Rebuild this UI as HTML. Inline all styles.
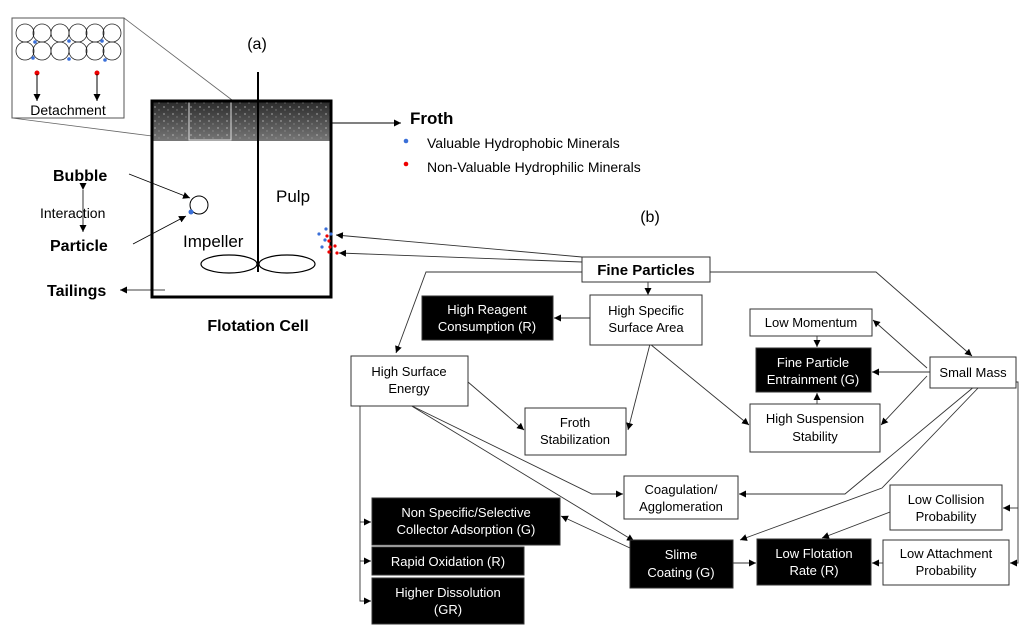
<!DOCTYPE html>
<html><head><meta charset="utf-8"><style>
html,body{margin:0;padding:0;background:#fff;}
svg{display:block;font-family:"Liberation Sans",Arial,sans-serif;}
</style></head><body>
<svg width="1033" height="638" viewBox="0 0 1033 638" xmlns="http://www.w3.org/2000/svg">
<defs>
<marker id="a" markerWidth="8" markerHeight="8" refX="7" refY="4" orient="auto" markerUnits="userSpaceOnUse"><path d="M0,0.5 L7,4 L0,7.5 z" fill="#000"/></marker>
<linearGradient id="fr" x1="0" y1="0" x2="0" y2="1"><stop offset="0" stop-color="#2a2a2a"/><stop offset="0.5" stop-color="#505050"/><stop offset="1" stop-color="#777"/></linearGradient>
<pattern id="sp" width="9" height="7" patternUnits="userSpaceOnUse"><circle cx="2" cy="2" r="0.9" fill="#ccc"/><circle cx="6" cy="5" r="0.7" fill="#aaa"/></pattern>
</defs>
<text x="257" y="49" font-size="16" text-anchor="middle">(a)</text>
<rect x="12" y="18" width="112" height="100" fill="#fff" stroke="#555" stroke-width="1"/>
<g fill="none" stroke="#222" stroke-width="0.8">
<circle cx="25" cy="33" r="9"/><circle cx="42" cy="33" r="9"/><circle cx="60" cy="33" r="9"/><circle cx="78" cy="33" r="9"/><circle cx="95" cy="33" r="9"/><circle cx="112" cy="33" r="9"/>
<circle cx="25" cy="51" r="9"/><circle cx="42" cy="51" r="9"/><circle cx="60" cy="51" r="9"/><circle cx="78" cy="51" r="9"/><circle cx="95" cy="51" r="9"/><circle cx="112" cy="51" r="9"/>
</g>
<g fill="#3a6fd8"><circle cx="35" cy="42" r="1.8"/><circle cx="69" cy="41" r="1.8"/><circle cx="102" cy="41" r="1.8"/><circle cx="33" cy="58" r="1.8"/><circle cx="69" cy="59" r="1.8"/><circle cx="105" cy="60" r="1.8"/></g>
<circle cx="37" cy="73" r="2.5" fill="#e00"/><circle cx="97" cy="73" r="2.5" fill="#e00"/>
<line x1="37" y1="74" x2="37" y2="101" stroke="#000" marker-end="url(#a)"/>
<line x1="97" y1="74" x2="97" y2="101" stroke="#000" marker-end="url(#a)"/>
<text x="68" y="115" font-size="14" text-anchor="middle">Detachment</text>
<line x1="124" y1="18" x2="232" y2="100" stroke="#666" stroke-width="0.8"/>
<line x1="12" y1="118" x2="152" y2="136" stroke="#666" stroke-width="0.8"/>
<rect x="152" y="101" width="179" height="40" fill="url(#fr)"/>
<rect x="152" y="101" width="179" height="40" fill="url(#sp)" opacity="0.6"/>
<rect x="189" y="102" width="42" height="38" fill="none" stroke="#ddd" stroke-width="1"/>
<rect x="152" y="101" width="179" height="196" fill="none" stroke="#000" stroke-width="3"/>
<line x1="258" y1="72" x2="258" y2="272" stroke="#000" stroke-width="2"/>
<ellipse cx="229" cy="264" rx="28" ry="9" fill="none" stroke="#000" stroke-width="1.2"/>
<ellipse cx="287" cy="264" rx="28" ry="9" fill="none" stroke="#000" stroke-width="1.2"/>
<text x="276" y="202" font-size="17">Pulp</text>
<text x="183" y="247" font-size="17">Impeller</text>
<circle cx="199" cy="205" r="9" fill="#fff" stroke="#000" stroke-width="1"/>
<circle cx="191" cy="212" r="2.5" fill="#3a6fd8"/>
<g fill="#3a6fd8"><circle cx="319" cy="234" r="1.6"/><circle cx="326" cy="229" r="1.6"/><circle cx="325" cy="240" r="1.6"/><circle cx="322" cy="247" r="1.6"/><circle cx="331" cy="234" r="1.6"/></g>
<g fill="#e00"><circle cx="327" cy="236" r="1.6"/><circle cx="329" cy="241" r="1.6"/><circle cx="330" cy="247" r="1.6"/><circle cx="335" cy="246" r="1.6"/><circle cx="329" cy="252" r="1.6"/><circle cx="337" cy="253" r="1.6"/></g>
<line x1="331" y1="123" x2="401" y2="123" stroke="#000" marker-end="url(#a)"/>
<text x="410" y="124" font-size="17" font-weight="bold">Froth</text>
<circle cx="406" cy="141" r="2.3" fill="#3a6fd8"/><text x="427" y="148" font-size="14">Valuable Hydrophobic Minerals</text>
<circle cx="406" cy="164" r="2.3" fill="#e00"/><text x="427" y="172" font-size="14">Non-Valuable Hydrophilic Minerals</text>
<text x="53" y="181" font-size="16" font-weight="bold">Bubble</text>
<text x="40" y="218" font-size="14">Interaction</text>
<text x="50" y="251" font-size="16" font-weight="bold">Particle</text>
<text x="47" y="296" font-size="16" font-weight="bold">Tailings</text>
<text x="258" y="331" font-size="16" font-weight="bold" text-anchor="middle">Flotation Cell</text>
<line x1="83" y1="190" x2="83" y2="232" stroke="#000" stroke-width="0.8" marker-start="url(#a)" marker-end="url(#a)"/>
<line x1="129" y1="174" x2="190" y2="198" stroke="#000" stroke-width="0.8" marker-end="url(#a)"/>
<line x1="133" y1="244" x2="186" y2="216" stroke="#000" stroke-width="0.8" marker-end="url(#a)"/>
<line x1="165" y1="290" x2="120" y2="290" stroke="#000" stroke-width="0.8" marker-end="url(#a)"/>
<text x="650" y="222" font-size="16" text-anchor="middle">(b)</text>
<g stroke="#333" stroke-width="0.9" fill="none">
<line x1="582" y1="257" x2="336" y2="235" marker-end="url(#a)"/>
<line x1="582" y1="262" x2="339" y2="253" marker-end="url(#a)"/>
<polyline points="582,272 426,272 396,353" marker-end="url(#a)"/>
<line x1="648" y1="282" x2="648" y2="295" marker-end="url(#a)"/>
<polyline points="710,272 876,272 972,356" marker-end="url(#a)"/>
<line x1="590" y1="318" x2="554" y2="318" marker-end="url(#a)"/>
<line x1="650" y1="344" x2="628" y2="430" marker-end="url(#a)"/>
<line x1="650" y1="344" x2="749" y2="425" marker-end="url(#a)"/>
<line x1="817" y1="336" x2="817" y2="347" marker-end="url(#a)"/>
<line x1="817" y1="404" x2="817" y2="393" marker-end="url(#a)"/>
<line x1="930" y1="372" x2="872" y2="372" marker-end="url(#a)"/>
<line x1="927" y1="368" x2="873" y2="320" marker-end="url(#a)"/>
<line x1="927" y1="376" x2="881" y2="425" marker-end="url(#a)"/>
<line x1="468" y1="382" x2="524" y2="430" marker-end="url(#a)"/>
<polyline points="410,405 592,494 623,494" marker-end="url(#a)"/>
<line x1="410" y1="405" x2="634" y2="541" marker-end="url(#a)"/>
<polyline points="360,406 360,601 371,601" marker-end="url(#a)"/>
<line x1="360" y1="522" x2="371" y2="522" marker-end="url(#a)"/>
<line x1="360" y1="561" x2="371" y2="561" marker-end="url(#a)"/>
<line x1="630" y1="548" x2="561" y2="516" marker-end="url(#a)"/>
<line x1="733" y1="563" x2="756" y2="563" marker-end="url(#a)"/>
<line x1="883" y1="563" x2="872" y2="563" marker-end="url(#a)"/>
<line x1="890" y1="512" x2="822" y2="538" marker-end="url(#a)"/>
<polyline points="975,386 845,494 739,494" marker-end="url(#a)"/>
<polyline points="980,386 882,488 740,540" marker-end="url(#a)"/>
<polyline points="1016,382 1018,382 1018,563 1010,563" marker-end="url(#a)"/>
<line x1="1018" y1="508" x2="1003" y2="508" marker-end="url(#a)"/>
</g>
<g stroke="#333" stroke-width="1">
<rect x="582" y="257" width="128" height="25" fill="#fff"/>
<rect x="590" y="295" width="112" height="50" fill="#fff"/>
<rect x="422" y="296" width="131" height="44" fill="#000"/>
<rect x="750" y="309" width="122" height="27" fill="#fff"/>
<rect x="756" y="348" width="115" height="44" fill="#000"/>
<rect x="930" y="357" width="86" height="31" fill="#fff"/>
<rect x="351" y="356" width="117" height="50" fill="#fff"/>
<rect x="525" y="408" width="101" height="47" fill="#fff"/>
<rect x="750" y="404" width="130" height="48" fill="#fff"/>
<rect x="624" y="476" width="114" height="43" fill="#fff"/>
<rect x="890" y="485" width="112" height="45" fill="#fff"/>
<rect x="372" y="498" width="188" height="47" fill="#000"/>
<rect x="372" y="547" width="152" height="28" fill="#000"/>
<rect x="372" y="578" width="152" height="46" fill="#000"/>
<rect x="630" y="540" width="103" height="48" fill="#000"/>
<rect x="757" y="539" width="114" height="46" fill="#000"/>
<rect x="883" y="540" width="126" height="45" fill="#fff"/>
</g>
<g font-size="13" text-anchor="middle" fill="#000">
<text x="646" y="275" font-size="15" font-weight="bold">Fine Particles</text>
<text x="646" y="315">High Specific</text><text x="646" y="332">Surface Area</text>
<text x="811" y="327">Low Momentum</text>
<text x="973" y="377">Small Mass</text>
<text x="409" y="376">High Surface</text><text x="409" y="393">Energy</text>
<text x="575" y="427">Froth</text><text x="575" y="444">Stabilization</text>
<text x="815" y="423">High Suspension</text><text x="815" y="441">Stability</text>
<text x="681" y="494">Coagulation/</text><text x="681" y="511">Agglomeration</text>
<text x="946" y="504">Low Collision</text><text x="946" y="521">Probability</text>
<text x="946" y="558">Low Attachment</text><text x="946" y="575">Probability</text>
</g>
<g font-size="13" text-anchor="middle" fill="#fff">
<text x="487" y="314">High Reagent</text><text x="487" y="331">Consumption (R)</text>
<text x="813" y="367">Fine Particle</text><text x="813" y="384">Entrainment (G)</text>
<text x="466" y="517">Non Specific/Selective</text><text x="466" y="534">Collector Adsorption (G)</text>
<text x="448" y="566">Rapid Oxidation (R)</text>
<text x="448" y="597">Higher Dissolution</text><text x="448" y="614">(GR)</text>
<text x="681" y="559">Slime</text><text x="681" y="577">Coating (G)</text>
<text x="814" y="558">Low Flotation</text><text x="814" y="575">Rate (R)</text>
</g>
</svg>
</body></html>
